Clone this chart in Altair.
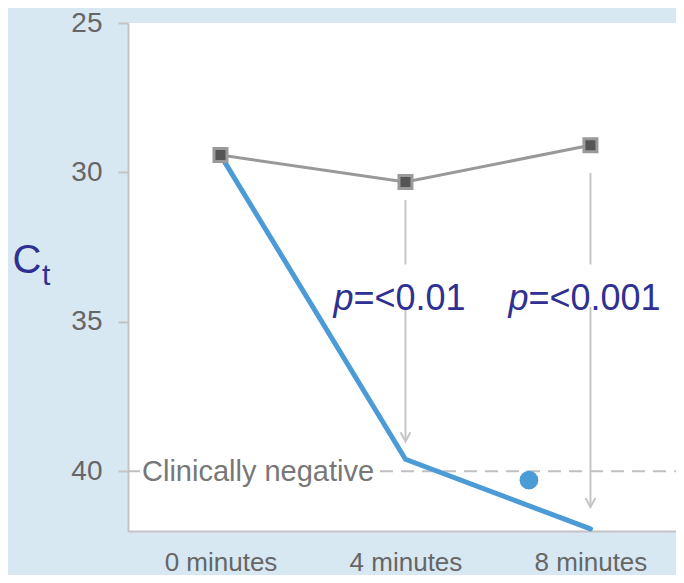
import altair as alt
import pandas as pd

# ---- data ----
minutes = [0, 4, 8]
x_labels = ["0 minutes", "4 minutes", "8 minutes"]
control_ct = [29.42, 30.32, 29.09]
treated_ct = [29.42, 39.6, 41.93]
dot_minute = [6.67]
dot_ct = [40.3]
y_ticks = [25, 30, 35, 40]
neg_ct = 40
neg_label = "Clinically negative"
neg_x_start = [-2.0, 3.45]
neg_x_end = [-1.74, 9.85]
p_minutes = [4, 8]
p_values = ["=<0.01", "=<0.001"]
p_ct = [34.61, 34.61]
arrow_minutes = [4, 4, 8, 8]
arrow_start = [30.92, 34.5, 30.02, 34.5]
arrow_end = [33.08, 39.0, 33.08, 41.2]
tip_minutes = [4, 8]
tip_ct = [39.0, 41.2]

FONT = "Liberation Sans"
BLUE = "#4a9bd6"
DARK = "#2e3192"

labels_js = "[" + ",".join(f"'{l}'" for l in x_labels) + "]"
label_expr = f"{labels_js}[indexof({minutes}, datum.value)]"

x_scale = alt.Scale(domain=[-2, 9.85], nice=False, zero=False)
y_scale = alt.Scale(domain=[25, 42], reverse=True, nice=False, zero=False)
x_axis = alt.Axis(values=minutes, labelExpr=label_expr, ticks=False, grid=False,
                  labelFontSize=26, labelColor="#666666", labelPadding=39, labelBaseline="alphabetic",
                  domainColor="#c4c4c4", domainWidth=2, title=None, labelFont=FONT)
y_axis = alt.Axis(values=y_ticks, grid=False, tickSize=10, tickColor="#c4c4c4", tickWidth=2,
                  domainColor="#c4c4c4", domainWidth=2, labelFontSize=28,
                  labelColor="#666666", labelPadding=16, title=None, labelFont=FONT)


def X(field="x"):
    return alt.X(f"{field}:Q", scale=x_scale, axis=x_axis)


def Y(field="y"):
    return alt.Y(f"{field}:Q", scale=y_scale, axis=y_axis)


control = pd.DataFrame({"x": minutes, "y": control_ct})
treated = pd.DataFrame({"x": minutes, "y": treated_ct})
dot = pd.DataFrame({"x": dot_minute, "y": dot_ct})
neg = pd.DataFrame({"x": neg_x_start, "x2": neg_x_end, "y": [neg_ct] * len(neg_x_start)})
arrows = pd.DataFrame({"x": arrow_minutes, "y": arrow_start, "y2": arrow_end})
tips = pd.DataFrame({"x": tip_minutes, "y": tip_ct})

layers = []

# dashed clinically-negative line
layers.append(alt.Chart(neg).mark_rule(color="#c0c0c0", strokeWidth=2, strokeDash=[13, 8]).encode(
    x=X(), x2="x2:Q", y=Y()))
layers.append(alt.Chart(pd.DataFrame({"x": [neg_x_start[0]], "y": [neg_ct], "t": [neg_label]}))
              .mark_text(align="left", baseline="middle", fontSize=29, color="#777777", font=FONT, dx=14, dy=1)
              .encode(x=X(), y=Y(), text="t:N"))

# arrows
layers.append(alt.Chart(arrows).mark_rule(color="#c6c6c6", strokeWidth=2).encode(x=X(), y=Y(), y2="y2:Q"))
layers.append(alt.Chart(tips).mark_point(shape="M-0.5,-0.9L0,0L0.5,-0.9", size=400, filled=False,
                                         color="#c6c6c6", strokeWidth=2, opacity=1)
              .encode(x=X(), y=Y()))

# p-value labels
p_dx = [-52, -62]
for i in range(len(p_minutes)):
    d = pd.DataFrame({"x": [p_minutes[i]], "y": [p_ct[i]], "t": [p_values[i]], "p": ["p"]})
    layers.append(alt.Chart(d).mark_text(align="right", baseline="alphabetic", fontSize=36, fontStyle="italic",
                                         color=DARK, font=FONT, dx=p_dx[i])
                  .encode(x=X(), y=Y(), text="p:N"))
    layers.append(alt.Chart(d).mark_text(align="left", baseline="alphabetic", fontSize=36,
                                         color=DARK, font=FONT, dx=p_dx[i])
                  .encode(x=X(), y=Y(), text="t:N"))

# treated (blue) line
layers.append(alt.Chart(treated).mark_line(color=BLUE, strokeWidth=5, strokeCap="round").encode(x=X(), y=Y()))

# blue dot
layers.append(alt.Chart(dot).mark_point(filled=True, size=350, color=BLUE, opacity=1).encode(x=X(), y=Y()))

# control (grey) line with square markers
layers.append(alt.Chart(control).mark_line(color="#999999", strokeWidth=3).encode(x=X(), y=Y()))
layers.append(alt.Chart(control).mark_point(shape="square", size=169, filled=True, fill="#555555",
                                            stroke="#9a9a9a", strokeWidth=3, opacity=1)
              .encode(x=X(), y=Y()))

# Ct title
layers.append(alt.Chart(pd.DataFrame({"t": ["C"]})).mark_text(
    align="center", baseline="alphabetic", fontSize=40, color=DARK, font=FONT)
    .encode(x=alt.value(-101), y=alt.value(250), text="t:N"))
layers.append(alt.Chart(pd.DataFrame({"t": ["t"]})).mark_text(
    align="left", baseline="alphabetic", fontSize=30, color=DARK, font=FONT)
    .encode(x=alt.value(-86), y=alt.value(262), text="t:N"))

chart = alt.layer(*layers).properties(
    width=548, height=508,
    autosize=alt.AutoSizeParams(type="none"),
    padding={"left": 120, "top": 15, "right": 0, "bottom": 44},
    background="#d8e8f3",
).configure_view(fill="white", strokeWidth=0)

chart.save("out.html", embed_options={"renderer": "svg", "actions": False})
